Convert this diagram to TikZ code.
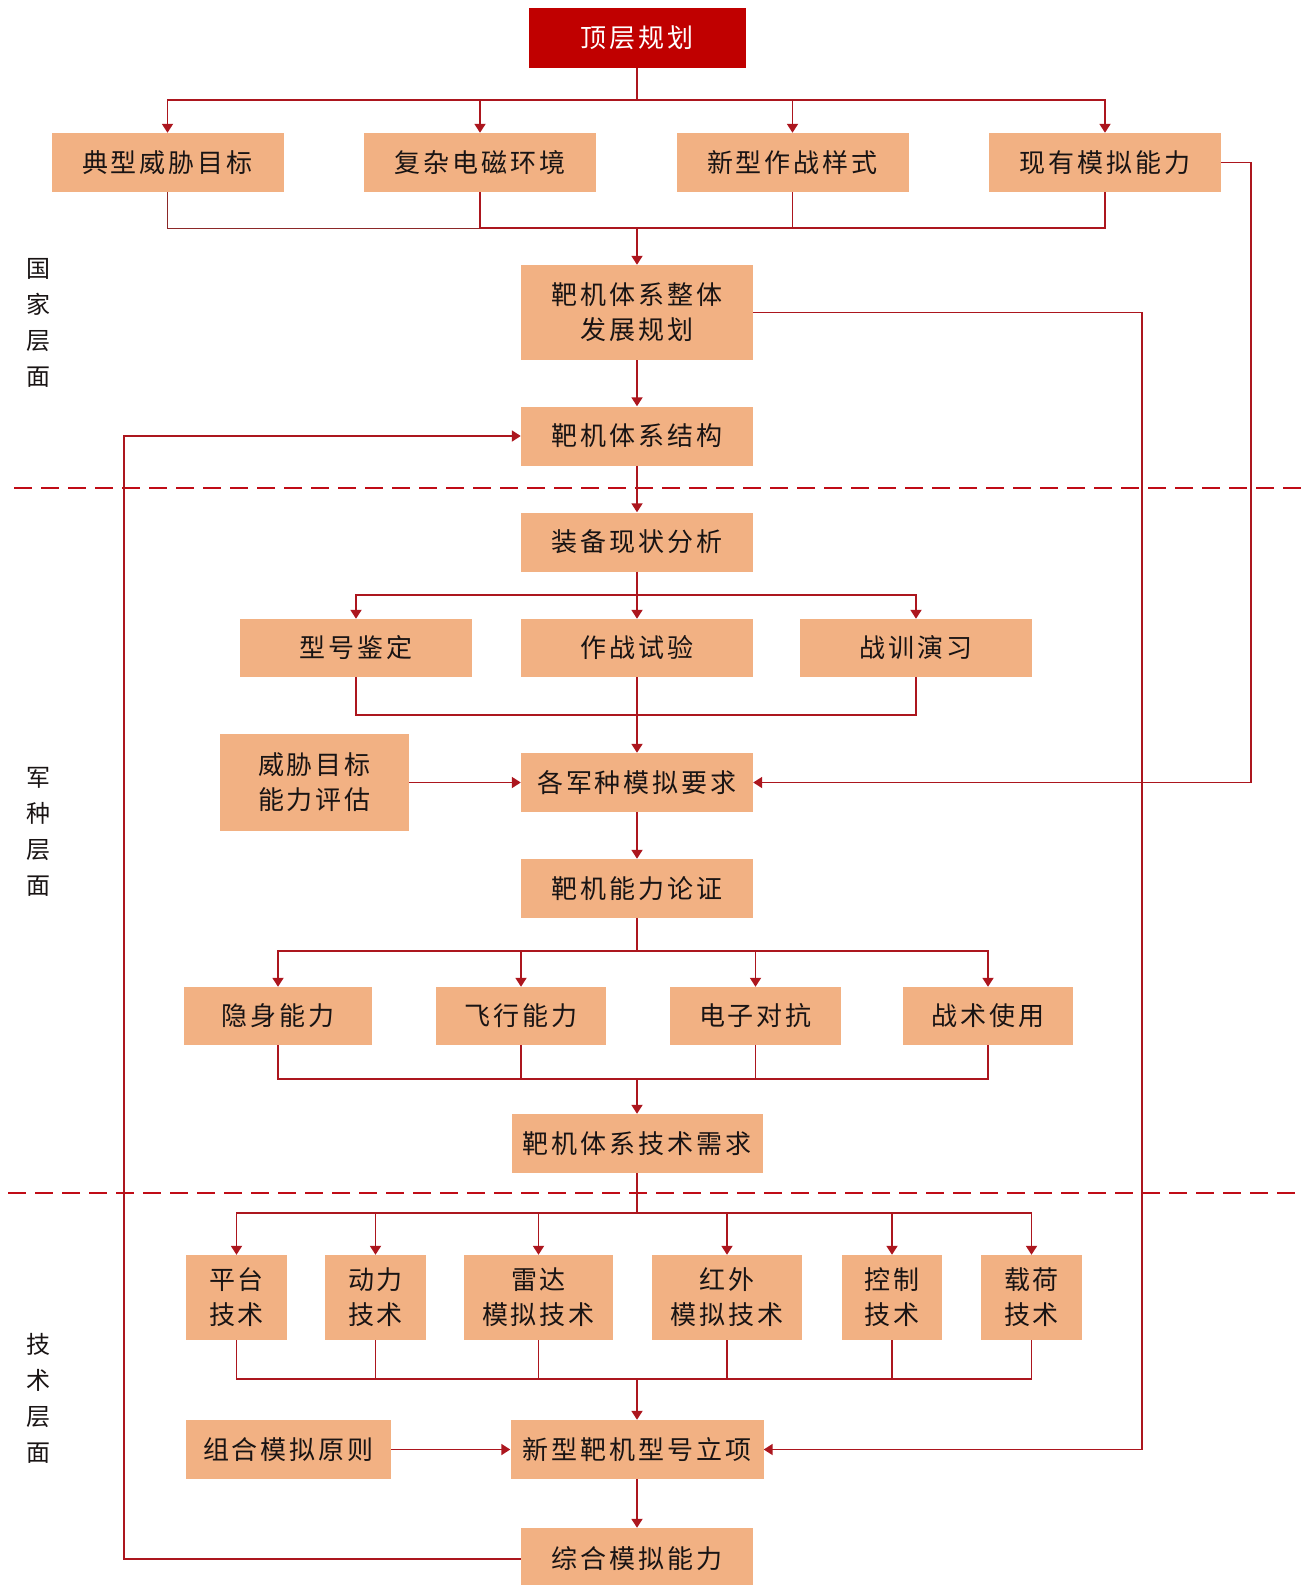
\documentclass[tikz,border=0pt]{standalone}
\usepackage{fontspec}
\usetikzlibrary{arrows.meta}
\newfontfamily\cjkbox{Noto Sans CJK SC}[LetterSpace=11.5]
\newfontfamily\cjkside{Noto Sans CJK SC}
\newcommand\bxfont{\cjkbox\fontsize{26}{35}\selectfont}
\newcommand\sdfont{\cjkside\fontsize{24}{36}\selectfont}

\definecolor{boxfill}{RGB}{242,177,131}
\definecolor{topred}{RGB}{192,0,0}
\definecolor{linered}{RGB}{172,22,30}
\definecolor{thinred}{RGB}{140,40,40}
\definecolor{dashred}{RGB}{192,12,22}
\definecolor{ink}{RGB}{25,20,20}

\tikzset{
  box/.style={fill=boxfill, draw=none, inner sep=0pt, align=center, text=ink, font=\bxfont},
  conn/.style={draw=linered, line width=1.8pt},
  thinconn/.style={draw=thinred, line width=1pt},
  midconn/.style={draw=linered, line width=1.3pt},
  arr/.style={conn, -{Triangle[width=11pt,length=9pt]}},
  sepline/.style={draw=dashred, line width=2.6pt, dash pattern=on 18pt off 9pt},
  side/.style={align=center, font=\sdfont, text=ink, inner sep=0pt},
  wA/.style={minimum width=232pt, minimum height=59pt},
}

\begin{document}
\begin{tikzpicture}[x=1pt,y=-1pt]
\useasboundingbox (0,0) rectangle (1306,1585);

% ---------- national level ----------
\node[box, fill=topred, text=white, minimum width=217pt, minimum height=60pt] (top) at (637,38) {顶层规划};
\node[box, wA] (r1a) at (167.5,162.5) {典型威胁目标};
\node[box, wA] (r1b) at (480,162.5) {复杂电磁环境};
\node[box, wA] (r1c) at (792.5,162.5) {新型作战样式};
\node[box, wA] (r1d) at (1105,162.5) {现有模拟能力};
\node[box, minimum width=232pt, minimum height=95pt] (plan) at (637,312.5) {靶机体系整体\\发展规划};
\node[box, wA] (struct) at (637,436) {靶机体系结构};

% ---------- service level ----------
\node[box, wA] (equip) at (637,542) {装备现状分析};
\node[box, minimum width=232pt, minimum height=58pt] (r2a) at (356,648) {型号鉴定};
\node[box, minimum width=232pt, minimum height=58pt] (r2b) at (637,648) {作战试验};
\node[box, minimum width=232pt, minimum height=58pt] (r2c) at (916,648) {战训演习};
\node[box, wA] (req) at (637,782.5) {各军种模拟要求};
\node[box, minimum width=189pt, minimum height=97pt] (threat) at (314.5,782.5) {威胁目标\\能力评估};
\node[box, wA] (arg) at (637,888.5) {靶机能力论证};
\node[box, minimum width=188pt, minimum height=58pt] (r3a) at (278,1016) {隐身能力};
\node[box, minimum width=170pt, minimum height=58pt] (r3b) at (521,1016) {飞行能力};
\node[box, minimum width=171pt, minimum height=58pt] (r3c) at (755.5,1016) {电子对抗};
\node[box, minimum width=170pt, minimum height=58pt] (r3d) at (988,1016) {战术使用};
\node[box, minimum width=251pt, minimum height=59pt] (tech) at (637,1143.5) {靶机体系技术需求};

% ---------- technology level ----------
\node[box, minimum width=101pt, minimum height=85pt] (r4a) at (236.5,1297.5) {平台\\技术};
\node[box, minimum width=101pt, minimum height=85pt] (r4b) at (375.5,1297.5) {动力\\技术};
\node[box, minimum width=149pt, minimum height=85pt] (r4c) at (538.5,1297.5) {雷达\\模拟技术};
\node[box, minimum width=150pt, minimum height=85pt] (r4d) at (727,1297.5) {红外\\模拟技术};
\node[box, minimum width=100pt, minimum height=85pt] (r4e) at (892,1297.5) {控制\\技术};
\node[box, minimum width=101pt, minimum height=85pt] (r4f) at (1031.5,1297.5) {载荷\\技术};
\node[box, minimum width=205pt, minimum height=59pt] (comb) at (288.5,1449.5) {组合模拟原则};
\node[box, minimum width=253pt, minimum height=59pt] (new) at (637,1449.5) {新型靶机型号立项};
\node[box, minimum width=232pt, minimum height=62pt] (final) at (637,1559) {综合模拟能力};

% ---------- level labels ----------
\node[side] (lv1) at (38,322.5) {国\\家\\层\\面};
\node[side] (lv2) at (38,831.5) {军\\种\\层\\面};
\node[side] (lv3) at (38,1398) {技\\术\\层\\面};

% ---------- level separators ----------
\coordinate (s1a) at (14,488);  \coordinate (s1b) at (1302,488);
\coordinate (s2a) at (8,1193);  \coordinate (s2b) at (1297,1193);
\draw[sepline] (s1a) -- (s1b);
\draw[sepline] (s2a) -- (s2b);

% ---------- bus points ----------
\coordinate (b1) at (637,100);
\coordinate (m1) at (637,228);
\coordinate (b2) at (637,595);
\coordinate (m2) at (637,715);
\coordinate (b3) at (637,951);
\coordinate (m3) at (637,1079);
\coordinate (b4) at (637,1213);
\coordinate (m4) at (637,1379);
\coordinate (rr) at (1251,782.5);
\coordinate (pr) at (1142,1449.5);
\coordinate (lr) at (124,1559);

% ---------- connectors ----------
\draw[arr] (top.south) -- (b1) -| (r1a.north);
\draw[arr] (b1) -| (r1b.north);
\draw[arr] (b1) -| (r1c.north);
\draw[arr] (b1) -| (r1d.north);
\draw[thinconn] (r1a.south) |- (r1b.south |- m1);
\draw[conn] (r1b.south) |- (m1);
\draw[conn] (r1c.south) |- (m1);
\draw[conn] (r1d.south) |- (m1);
\draw[arr] (m1) -- (plan.north);
\draw[arr] (plan.south) -- (struct.north);
\draw[arr] (struct.south) -- (equip.north);

\draw[arr] (equip.south) -- (b2) -| (r2a.north);
\draw[arr] (b2) -- (r2b.north);
\draw[arr] (b2) -| (r2c.north);
\draw[midconn] (r2a.south) |- (m2);
\draw[midconn] (r2c.south) |- (m2);
\draw[arr] (r2b.south) -- (req.north);
\draw[arr] (threat.east) -- (req.west);
\draw[arr] (r1d.east) -| (rr) -- (req.east);
\draw[arr] (req.south) -- (arg.north);

\draw[arr] (arg.south) -- (b3) -| (r3a.north);
\draw[arr] (b3) -| (r3b.north);
\draw[arr] (b3) -| (r3c.north);
\draw[arr] (b3) -| (r3d.north);
\draw[conn] (r3a.south) |- (m3);
\draw[conn] (r3b.south) |- (m3);
\draw[conn] (r3c.south) |- (m3);
\draw[conn] (r3d.south) |- (m3);
\draw[arr] (m3) -- (tech.north);

\draw[arr] (tech.south) -- (b4) -| (r4a.north);
\draw[arr] (b4) -| (r4b.north);
\draw[arr] (b4) -| (r4c.north);
\draw[arr] (b4) -| (r4d.north);
\draw[arr] (b4) -| (r4e.north);
\draw[arr] (b4) -| (r4f.north);
\draw[conn] (r4a.south) |- (m4);
\draw[conn] (r4b.south) |- (m4);
\draw[conn] (r4c.south) |- (m4);
\draw[conn] (r4d.south) |- (m4);
\draw[conn] (r4e.south) |- (m4);
\draw[conn] (r4f.south) |- (m4);
\draw[arr] (m4) -- (new.north);
\draw[arr] (comb.east) -- (new.west);
\draw[arr] (plan.east) -| (pr) -- (new.east);
\draw[arr] (new.south) -- (final.north);
\draw[arr] (final.west) -- (lr) |- (struct.west);
\end{tikzpicture}
\end{document}
